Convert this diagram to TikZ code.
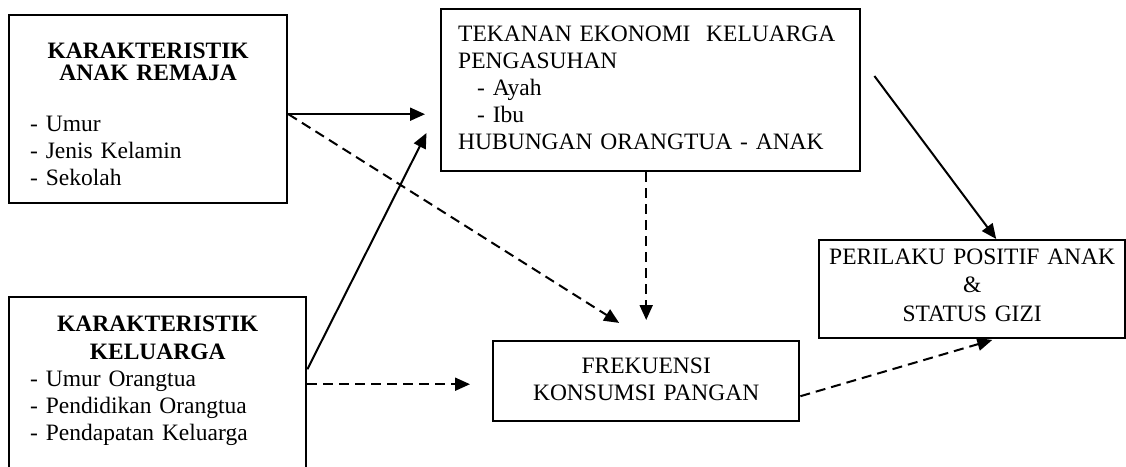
\documentclass[tikz,border=0pt]{standalone}
\usepackage{fontspec}
\setmainfont{Liberation Serif}
\usetikzlibrary{arrows.meta}

\begin{document}
\begin{tikzpicture}[x=1pt, y=-1pt, >={Triangle[length=15pt,width=13pt]},
  kotak/.style={draw, line width=2.4pt, inner sep=0pt, anchor=north west,
    font=\fontsize{23.5}{27}\selectfont},
  panah/.style={->, line width=2pt},
  putus/.style={->, line width=2pt, dash pattern=on 10pt off 6pt}]
  \useasboundingbox (0,0) rectangle (1126,466);
  \node[kotak, minimum width=278pt, minimum height=188pt, text width=278pt, align=left] (rem) at (8,14)
    {\rule{0pt}{43pt}\makebox[\linewidth]{\bfseries KARAKTERISTIK}\\[-5pt]
     \makebox[\linewidth]{\bfseries ANAK REMAJA}\\[24pt]
     \hspace*{21pt}- Umur\\
     \hspace*{21pt}- Jenis Kelamin\\
     \hspace*{21pt}- Sekolah\rule[-17pt]{0pt}{17pt}};
  \node[kotak, minimum width=297pt, minimum height=174pt, text width=297pt, align=left] (kel) at (8,296)
    {\rule{0pt}{34pt}\makebox[\linewidth]{\bfseries KARAKTERISTIK}\\[1pt]
     \makebox[\linewidth]{\bfseries KELUARGA}\\
     \hspace*{21pt}- Umur Orangtua\\
     \hspace*{21pt}- Pendidikan Orangtua\\
     \hspace*{21pt}- Pendapatan Keluarga\rule[-31pt]{0pt}{31pt}};
  \node[kotak, minimum width=419pt, minimum height=162pt, text width=419pt, align=left] (tek) at (440,8)
    {\rule{0pt}{32pt}\hspace*{17pt}TEKANAN EKONOMI\ \ KELUARGA\\
     \hspace*{17pt}PENGASUHAN\\
     \hspace*{36pt}- Ayah\\
     \hspace*{36pt}- Ibu\\
     \hspace*{17pt}HUBUNGAN ORANGTUA - ANAK\rule[-22pt]{0pt}{22pt}};
  \node[kotak, minimum width=306pt, minimum height=80pt, text width=306pt, align=center] (frek) at (492,340)
    {\rule{0pt}{32pt}FREKUENSI\\
     KONSUMSI PANGAN\rule[-21pt]{0pt}{21pt}};
  \node[kotak, minimum width=306pt, minimum height=98pt, text width=306pt, align=center] (pri) at (818,239)
    {\rule{0pt}{24pt}PERILAKU POSITIF ANAK\\[1.5pt]
     \&\\[1.5pt]
     STATUS GIZI\rule[-17pt]{0pt}{17pt}};
  % panah
  \draw[panah, shorten >=15pt] ([yshift=-5pt]rem.east) -- ([yshift=-24pt]tek.west);
  \draw[putus, shorten >=32pt] ([yshift=-5pt]rem.east) -- (frek.north);
  \draw[panah, shorten >=30pt] ([yshift=15pt]kel.east) -- ([yshift=-16pt]tek.west);
  \draw[putus, shorten >=22pt] (kel.east) -- (kel.east -| frek.west);
  \draw[putus, shorten >=20pt] (frek.north |- tek.south) -- (frek.north);
  \draw[panah] ([xshift=13pt,yshift=-68pt]tek.north east) -- ([xshift=24pt]pri.north);
  \draw[putus, shorten >=2pt] ([yshift=-15pt]frek.east) -- ([xshift=22pt]pri.south);
\end{tikzpicture}
\end{document}
